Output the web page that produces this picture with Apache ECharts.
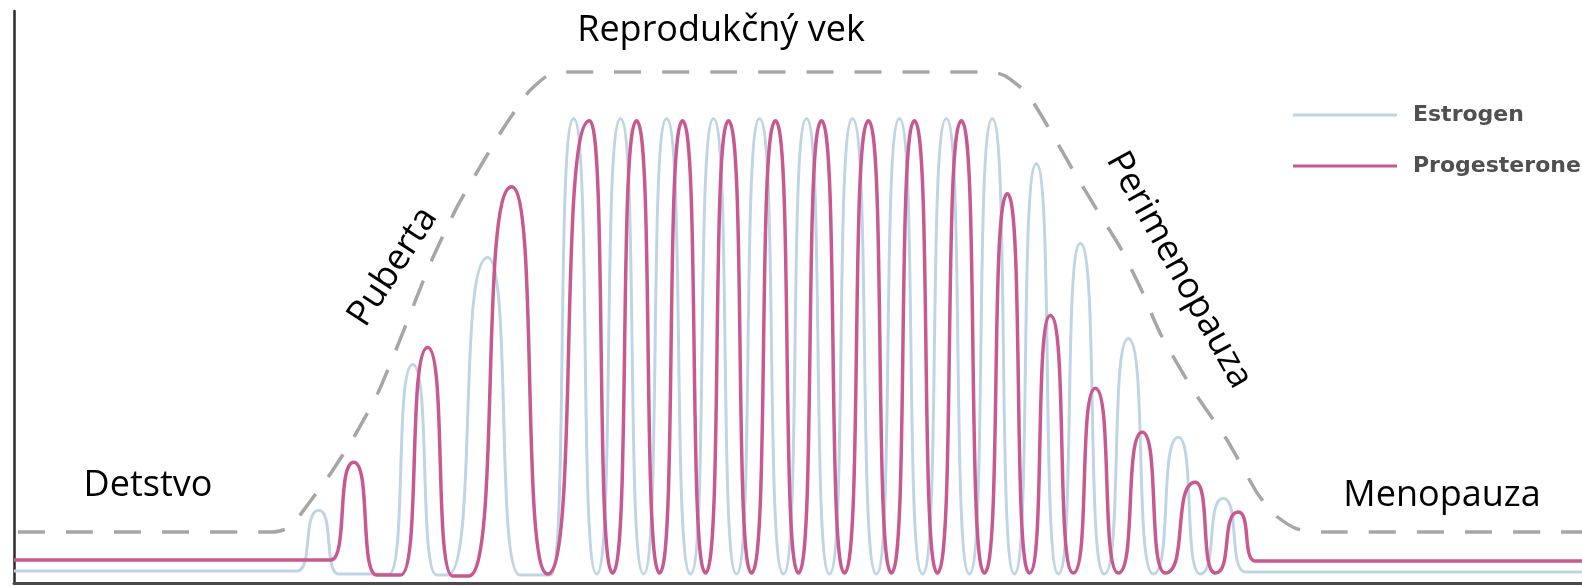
<!DOCTYPE html>
<html>
<head>
<meta charset="utf-8">
<script src="https://cdn.jsdelivr.net/npm/echarts@6/dist/echarts.min.js"></script>
<style>html,body{margin:0;padding:0;background:#fff}#c{width:1582px;height:586px}</style>
</head>
<body>
<div id="c"></div>
<script>
// time (arbitrary units, 0..1569) vs hormone level (arbitrary units, 0..573)
const estrogen = [
  [0,12],[283,12],[305,73],[325,9],[375,9],[399,219],[423,8],[434,8],[474,326],[506,8],[537,8],
  [560,465],[583,9],[607,465],[630,9],[653,465],[677,9],[700,465],[723,9],[746,465],[770,9],
  [793,465],[816,9],[839,465],[863,9],[886,465],[909,9],[933,465],[956,9],[979,465],[1001,9],
  [1023,420],[1045,9],[1067,340],[1091,9],[1115,245],[1140,9],[1165,146],[1187,9],[1210,85],
  [1232,11],[1569,11]
];
const progesterone = [
  [0,23],[317,23],[340,121],[363,8],[387,8],[414,236],[439,7],[455,7],[498,397],[534,9],
  [576,463],[599,10],[623,463],[646,10],[669,463],[692,10],[715,463],[738,10],[762,463],[785,10],
  [808,463],[831,10],[855,463],[878,10],[901,463],[924,10],[948,463],[971,10],[994,390],[1016,10],
  [1037,268],[1060,10],[1082,195],[1105,10],[1129,151],[1152,10],[1182,101],[1202,10],[1225,71],
  [1242,22],[1569,22]
];
const envelope = [
  [0,51],[259,51],[277,56],[287,69],[317,110],[340,146],[364,190],[384,238],[417,321],[444,378],
  [470,423],[490,456],[515,492],[532,507],[547,512],[977,512],[992,508],[1014,490],[1037,453],
  [1060,413],[1084,373],[1107,336],[1127,296],[1147,250],[1180,193],[1214,143],[1244,90],
  [1262,68],[1282,55],[1302,51],[1569,51]
];
const seriesNames = ['Estrogen', 'Progesterone'];
const phaseLabels = ['Detstvo', 'Puberta', 'Reprodukčný vek', 'Perimenopauza', 'Menopauza'];

const chart = echarts.init(document.getElementById('c'), null, {renderer: 'canvas'});
const labelFont = {fontFamily: '"Open Sans", sans-serif', fontSize: 36, fill: '#000', align: 'center', verticalAlign: 'middle'};
function lbl(text, x, y, deg) {
  return {type: 'text', x: x, y: y, rotation: (deg || 0) * Math.PI / 180, z: 10,
    style: Object.assign({text: text}, labelFont)};
}
chart.setOption({
  animation: false,
  backgroundColor: '#fff',
  grid: {left: 14, right: 0, top: 11, bottom: 3},
  xAxis: {type: 'value', min: 0, max: 1569,
    axisLine: {show: true, lineStyle: {color: '#4a4a4a', width: 3}},
    axisTick: {show: false}, axisLabel: {show: false}, splitLine: {show: false}},
  yAxis: {type: 'value', min: 0, max: 573,
    axisLine: {show: true, lineStyle: {color: '#2a2a2a', width: 2.5}},
    axisTick: {show: false}, axisLabel: {show: false}, splitLine: {show: false}},
  legend: {
    data: seriesNames, orient: 'vertical', left: 1293, top: 100, padding: 0,
    icon: 'rect', itemWidth: 104, itemHeight: 3, itemGap: 21,
    textStyle: {fontFamily: '"DejaVu Sans", sans-serif', fontSize: 22, fontWeight: 'bold', color: '#505050', lineHeight: 30, padding: [0, 0, 0, 11]}
  },
  series: [
    {name: seriesNames[0], type: 'line', data: estrogen, smooth: 0.75, smoothMonotone: 'x',
      symbol: 'none', color: '#bfd5e5', lineStyle: {color: '#bfd5e5', width: 3}, z: 2},
    {name: seriesNames[1], type: 'line', data: progesterone, smooth: 0.75, smoothMonotone: 'x',
      symbol: 'none', color: '#c75990', lineStyle: {color: '#c75990', width: 3.5}, z: 3},
    {name: 'envelope', type: 'line', data: envelope, smooth: 0.2, symbol: 'none',
      lineStyle: {color: '#a6a6a6', width: 3.5, type: [27, 21], dashOffset: 44}, z: 4}
  ],
  graphic: [
    lbl(phaseLabels[0], 148, 486),
    lbl(phaseLabels[1], 393, 267, 57),
    lbl(phaseLabels[2], 721, 31),
    lbl(phaseLabels[3], 1179, 270, -61),
    lbl(phaseLabels[4], 1442, 496)
  ]
});
</script>
</body>
</html>
